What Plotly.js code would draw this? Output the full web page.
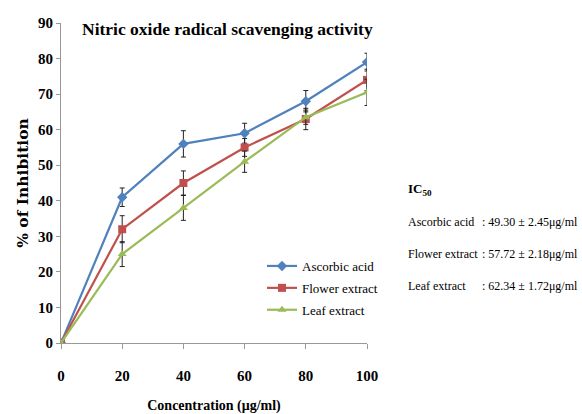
<!DOCTYPE html>
<html><head><meta charset="utf-8">
<script src="https://cdn.plot.ly/plotly-3.0.1.min.js"></script>
<style>html,body{margin:0;padding:0;background:#fff}#c{width:582px;height:414px}</style>
</head><body><div id="c"></div>
<script>
const conc = [0, 20, 40, 60, 80, 100];
const ascorbic = [0, 41, 56, 59, 68, 79];
const ascorbicErr = [0, 2.6, 3.7, 2.8, 3, 2.5];
const flower = [0, 32, 45, 55, 63, 74];
const flowerErr = [0, 3.8, 3.4, 2.5, 3, 3];
const leaf = [0, 25, 38, 51, 63.5, 70.5];
const leafErr = [0, 3.5, 3.5, 3, 2, 3.7];
const names = ["Ascorbic acid", "Flower extract", "Leaf extract"];
const icLabels = ["Ascorbic acid", "Flower extract", "Leaf extract"];
const icValues = [": 49.30 ± 2.45μg/ml", ": 57.72 ± 2.18μg/ml", ": 62.34 ± 1.72μg/ml"];

const serif = "Liberation Serif, Times New Roman, serif";
function tr(y, e, name, color, sym, size) {
  return {x: conc, y: y, name: name, legendgroup: name, mode: "lines+markers", type: "scatter",
    line: {color: color, width: 2.2},
    marker: {symbol: sym, size: size, color: color},
    error_y: {type: "data", array: e, visible: true, color: "#222", thickness: 1, width: 2.5}};
}
const data = [
  tr(ascorbic, ascorbicErr, names[0], "#4F81BD", "diamond", 8),
  tr(flower, flowerErr, names[1], "#C0504D", "square", 8),
  tr(leaf, leafErr, names[2], "#9BBB59", "triangle-up", 8)
];
function px(x) { return (x - 61) / (582 - 61 - 215); }
function py(y) { return (414 - 71 - y) / (414 - 23 - 71); }
const layout = {
  width: 582, height: 414,
  margin: {l: 61, r: 215, t: 23, b: 71},
  paper_bgcolor: "#fff", plot_bgcolor: "#fff",
  showlegend: true,
  legend: {x: px(262), y: py(251), xanchor: "left", yanchor: "top", bgcolor: "rgba(0,0,0,0)",
    font: {family: serif, size: 13, color: "#000"}, traceorder: "grouped", tracegroupgap: 2, itemwidth: 30},
  xaxis: {range: [0, 100], tickvals: conc, ticks: "outside", ticklen: 5, tickcolor: "#999",
    showline: true, linecolor: "#999", showgrid: false, zeroline: false, ticklabelstandoff: 14,
    tickfont: {family: serif, size: 15, color: "#000", weight: "bold"},
    title: {text: "<b>Concentration (μg/ml)</b>", font: {family: serif, size: 14, color: "#000"}, standoff: 22}},
  yaxis: {range: [0, 90], dtick: 10, ticks: "outside", ticklen: 4, tickcolor: "#999",
    showline: true, linecolor: "#999", showgrid: false, zeroline: false,
    tickfont: {family: serif, size: 15, color: "#000", weight: "bold"},
    title: {text: "<b>% of Inhibition</b>", font: {family: "DejaVu Serif, serif", size: 15.5, color: "#000"}, standoff: 5}},
  annotations: [
    {text: "<b>Nitric oxide radical scavenging activity</b>", x: px(228), y: py(29), xref: "paper", yref: "paper",
     xanchor: "center", yanchor: "middle", showarrow: false,
     font: {family: serif, size: 17.5, color: "#000"}},
    {text: "<b>IC<sub>50</sub></b>", x: px(406), y: py(189), xref: "paper", yref: "paper", xanchor: "left", yanchor: "middle", showarrow: false,
     font: {family: serif, size: 13, color: "#000"}}
  ]
};
const valueX = [480, 480, 480];
icLabels.forEach((t, i) => {
  layout.annotations.push({text: t, x: px(406), y: py(222 + 32 * i), xref: "paper", yref: "paper", xanchor: "left", yanchor: "middle", showarrow: false,
    font: {family: serif, size: 12, color: "#000"}});
  layout.annotations.push({text: icValues[i], x: px(valueX[i]), y: py(222 + 32 * i), xref: "paper", yref: "paper", xanchor: "left", yanchor: "middle", showarrow: false,
    font: {family: serif, size: 12, color: "#000"}});
});
Plotly.newPlot("c", data, layout, {displayModeBar: false});
</script></body></html>
